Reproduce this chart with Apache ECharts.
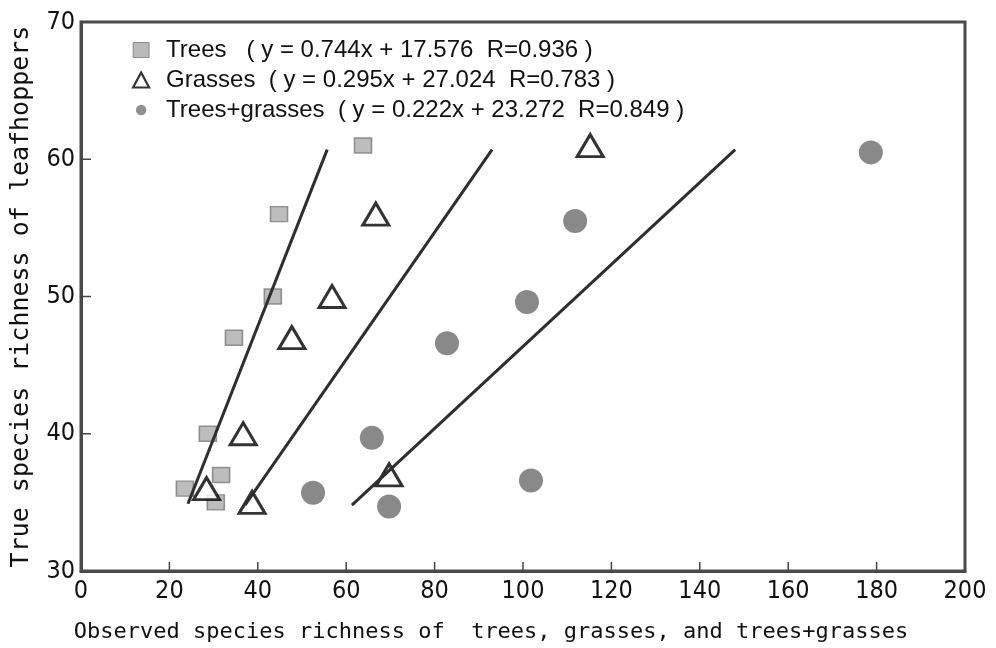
<!DOCTYPE html>
<html>
<head>
<meta charset="utf-8">
<title>Leafhopper richness</title>
<script src="https://cdn.jsdelivr.net/npm/echarts@6/dist/echarts.min.js"></script>
<style>
  html, body { margin: 0; padding: 0; background: #fff; }
  #main { width: 996px; height: 648px; }
</style>
</head>
<body>
<div id="main"></div>
<script>
// observed richness (x) / true richness (y)
var treesX = [23.5, 28.7, 30.5, 31.7, 34.6, 43.4, 44.8, 63.8];
var treesY = [36.0, 40.0, 35.0, 37.0, 47.0, 50.0, 56.0, 61.0];
var grassX = [28.4, 36.7, 38.7, 47.7, 56.8, 66.7, 69.7, 115.2];
var grassY = [36.0, 40.0, 35.0, 47.0, 50.0, 56.0, 37.0, 61.0];
var bothX = [52.5, 65.8, 69.7, 82.8, 100.9, 101.8, 111.8, 178.7];
var bothY = [35.7, 39.7, 34.7, 46.6, 49.6, 36.6, 55.5, 60.5];

// fitted lines, end points as drawn
var treesFit = [[24.2, 34.9], [55.7, 60.7]];
var grassFit = [[37.1, 34.8], [93.0, 60.7]];
var bothFit = [[61.3, 34.8], [148.0, 60.7]];

var legendText = {
    'Trees': 'Trees   ( y = 0.744x + 17.576  R=0.936 )',
    'Grasses': 'Grasses  ( y = 0.295x + 27.024  R=0.783 )',
    'Trees+grasses': 'Trees+grasses  ( y = 0.222x + 23.272  R=0.849 )'
};

var xTicks = [0, 200, 20];   // min, max, step
var yTicks = [30, 70, 10];
var xTickMarks = [20, 40, 60, 80, 100, 120, 140, 160, 180];
var yTickMarks = [40, 50, 60];

function pairs(xs, ys) {
    var out = [];
    for (var i = 0; i < xs.length; i++) out.push([xs[i], ys[i]]);
    return out;
}

function fitLine(pts) {
    return {
        type: 'line',
        data: pts,
        symbol: 'none',
        silent: true,
        z: 3,
        lineStyle: { color: '#2e2e2e', width: 3 }
    };
}

// short inward ticks, placed through the axes
function tickSeries(vals, isX) {
    var pts = vals.map(function (v) {
        return isX ? [v, yTicks[0]] : [xTicks[0], v];
    });
    return {
        type: 'custom',
        silent: true,
        z: 4,
        data: pts,
        encode: { x: 0, y: 1 },
        renderItem: function (params, api) {
            var p = api.coord([api.value(0), api.value(1)]);
            return {
                type: 'line',
                shape: isX
                    ? { x1: p[0], y1: p[1], x2: p[0], y2: p[1] - 9 }
                    : { x1: p[0], y1: p[1], x2: p[0] + 10, y2: p[1] },
                style: { stroke: '#444', lineWidth: 1.5 }
            };
        }
    };
}

var chart = echarts.init(document.getElementById('main'), null, { renderer: 'canvas' });

var tickFont = '"DejaVu Sans Condensed", "DejaVu Sans", sans-serif';
var titleFont = '"DejaVu Sans Mono", "Liberation Mono", monospace';

var option = {
    animation: false,
    backgroundColor: '#fff',
    grid: {
        left: 81, right: 31, top: 22, bottom: 77,
        show: true,
        borderColor: '#4a4a4a',
        borderWidth: 3
    },
    legend: {
        orient: 'vertical',
        left: 127,
        top: 33,
        itemWidth: 16,
        itemHeight: 15,
        itemGap: 6,
        data: [
            { name: 'Trees', icon: 'rect', itemStyle: { color: '#a9a9a9', borderColor: '#7a7a7a', borderWidth: 1 } },
            { name: 'Grasses', icon: 'triangle', itemStyle: { color: '#fff', borderColor: '#000', borderWidth: 2.2 } },
            { name: 'Trees+grasses', icon: 'path://M0 0M20 20M10 3A7 7 0 1 1 10 17A7 7 0 1 1 10 3Z', itemStyle: { color: '#747474', borderWidth: 0 } }
        ],
        formatter: function (name) { return legendText[name]; },
        textStyle: {
            fontFamily: '"Liberation Sans", Arial, sans-serif',
            fontSize: 24,
            lineHeight: 24,
            color: '#111',
            padding: [0, 0, 0, 12]
        }
    },
    xAxis: {
        type: 'value',
        min: xTicks[0], max: xTicks[1], interval: xTicks[2],
        name: 'Observed species richness of  trees, grasses, and trees+grasses',
        nameLocation: 'middle',
        nameGap: 50,
        nameTextStyle: { fontFamily: titleFont, fontSize: 22, color: '#111', padding: [0, 64, 0, 0] },
        axisLine: { show: true, lineStyle: { color: '#4a4a4a', width: 3 } },
        axisTick: { show: false },
        axisLabel: { fontFamily: tickFont, fontSize: 25, color: '#111', margin: 8 },
        splitLine: { show: false }
    },
    yAxis: {
        type: 'value',
        min: yTicks[0], max: yTicks[1], interval: yTicks[2],
        name: 'True species richness of leafhoppers',
        nameLocation: 'middle',
        nameGap: 47,
        nameRotate: 90,
        nameTextStyle: { fontFamily: titleFont, fontSize: 25, color: '#111' },
        axisLine: { show: true, lineStyle: { color: '#4a4a4a', width: 3 } },
        axisTick: { show: false },
        axisLabel: { fontFamily: tickFont, fontSize: 25, color: '#111', margin: 6 },
        splitLine: { show: false }
    },
    series: [
        {
            name: 'Trees',
            type: 'scatter',
            data: pairs(treesX, treesY),
            symbol: 'rect',
            symbolSize: [17, 15],
            z: 2,
            itemStyle: { color: '#adadad', borderColor: '#7a7a7a', borderWidth: 1.5 }
        },
        {
            name: 'Grasses',
            type: 'scatter',
            data: pairs(grassX, grassY),
            symbol: 'triangle',
            symbolSize: [26, 22],
            z: 2,
            itemStyle: { color: '#fff', borderColor: '#000', borderWidth: 3 }
        },
        {
            name: 'Trees+grasses',
            type: 'scatter',
            data: pairs(bothX, bothY),
            symbol: 'circle',
            symbolSize: 24,
            z: 2,
            itemStyle: { color: '#6b6b6b' }
        },
        fitLine(treesFit),
        fitLine(grassFit),
        fitLine(bothFit),
        tickSeries(xTickMarks, true),
        tickSeries(yTickMarks, false)
    ]
};

chart.setOption(option);
</script>
</body>
</html>
